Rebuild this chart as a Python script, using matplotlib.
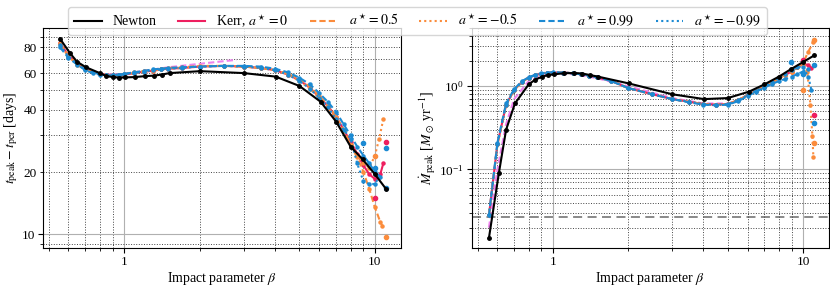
import matplotlib
matplotlib.use("Agg")
import matplotlib.pyplot as plt
from matplotlib import ticker
from matplotlib.lines import Line2D

plt.rcParams['font.family'] = ['Liberation Serif', 'DejaVu Serif']
plt.rcParams['mathtext.fontset'] = 'stix'
plt.rcParams['font.size'] = 10
plt.rcParams['xtick.labelsize'] = 9.5
plt.rcParams['ytick.labelsize'] = 9.5

# ---- data ----
beta_newton = [0.555, 0.608, 0.65, 0.705, 0.80, 0.85, 0.906, 0.955, 1.01, 1.105, 1.21, 1.31,
               1.41, 1.52, 2.01, 3.0, 4.02, 5.0, 6.08, 7.0, 8.0, 8.94, 10.0, 11.1]
t_newton = [88, 75, 68, 64, 60, 58, 57.4, 57, 57.2, 57.4, 58, 58.3,
            59, 60, 61.3, 60, 57.7, 52, 43.6, 35, 26.5, 23, 19.5, 16.5]
m_newton = [0.015, 0.09, 0.3, 0.62, 1.05, 1.2, 1.3, 1.36, 1.39, 1.43, 1.44, 1.42,
            1.36, 1.3, 1.08, 0.8, 0.7, 0.72, 0.86, 1.05, 1.3, 1.6, 1.95, 2.35]

beta_kerr = [0.555, 0.6, 0.65, 0.7, 0.75, 0.8, 0.85, 0.9, 0.95, 1.0, 1.1, 1.2, 1.3, 1.4, 1.5,
             1.7, 2.0, 2.5, 3.0, 3.5, 4.0, 4.5, 5.0, 5.5, 6.0, 6.5, 7.0, 7.5, 8.0, 8.5, 9.0, 9.5]

# left panel: t_peak - t_per [days]
t_a0 = [84, 73, 67, 63, 61, 59.5, 59, 58.5, 58.5, 59, 60, 61, 61.5, 62.5, 63,
        63.5, 64.5, 65, 64.5, 63.5, 62, 59, 55.5, 51, 46, 41.5, 37, 32, 28, 24.5, 21.5, 19.5]
t_p05 = [83, 72, 66, 62.5, 60.5, 59.5, 59, 58.5, 59, 59.5, 60.5, 61.5, 62, 63, 63.5,
         64, 65, 65, 64.5, 63.5, 62, 59.5, 56, 51.5, 46.5, 42, 37, 32, 27, 23.5, 20, 16.5]
t_m05 = [84, 73, 67, 63, 61, 59.5, 59, 58.5, 58.5, 59, 60, 61, 61.5, 62.5, 63,
         63.5, 64.5, 65, 64.5, 63.5, 62, 59, 55, 50.5, 45.5, 41, 36, 31.5, 27, 24, 22, 21]
t_p099 = [80, 71, 66, 62, 60, 59, 58.5, 58.5, 59, 59.5, 60.5, 61.5, 62.5, 63, 63.5,
          64, 64.5, 65, 65, 64.5, 63, 60.5, 57, 53, 48, 43.5, 39, 34, 30, 26.5, 24, 22]
t_m099 = [82, 72, 66.5, 62.5, 60.5, 59.5, 59, 58.5, 59, 59.5, 60, 61, 62, 62.5, 63,
          63.5, 64.5, 65, 64.5, 63.5, 62, 59, 55, 50.5, 45.5, 41, 36, 32, 29, 22, 18, 17.5]

# right panel: Mdot_peak [Msun/yr]
m_a0 = [0.028, 0.2, 0.6, 0.9, 1.12, 1.27, 1.36, 1.42, 1.45, 1.46, 1.46, 1.43, 1.39, 1.34, 1.28,
        1.17, 0.95, 0.8, 0.7, 0.65, 0.61, 0.6, 0.61, 0.68, 0.78, 0.88, 0.99, 1.1, 1.25, 1.37, 1.5, 1.7]
m_p05 = [0.028, 0.2, 0.6, 0.9, 1.12, 1.27, 1.36, 1.42, 1.45, 1.46, 1.46, 1.43, 1.39, 1.34, 1.28,
         1.17, 0.95, 0.8, 0.7, 0.65, 0.61, 0.6, 0.61, 0.68, 0.78, 0.88, 0.99, 1.1, 1.25, 1.37, 1.5, 1.7]
m_m05 = [0.028, 0.2, 0.6, 0.9, 1.12, 1.27, 1.36, 1.42, 1.45, 1.46, 1.46, 1.43, 1.39, 1.34, 1.28,
         1.17, 0.95, 0.8, 0.7, 0.65, 0.61, 0.6, 0.61, 0.68, 0.78, 0.88, 0.99, 1.1, 1.25, 1.37, 1.5, 1.7]
m_p099 = [0.028, 0.21, 0.62, 0.92, 1.14, 1.28, 1.37, 1.43, 1.46, 1.47, 1.46, 1.43, 1.39, 1.34, 1.28,
          1.16, 0.95, 0.8, 0.7, 0.64, 0.6, 0.59, 0.6, 0.66, 0.76, 0.86, 0.96, 1.06, 1.15, 1.22, 1.3, 1.4]
m_m099 = [0.028, 0.2, 0.6, 0.9, 1.12, 1.27, 1.36, 1.42, 1.45, 1.46, 1.46, 1.43, 1.39, 1.34, 1.28,
          1.17, 0.95, 0.8, 0.7, 0.65, 0.61, 0.6, 0.61, 0.68, 0.78, 0.88, 0.99, 1.12, 1.27, 1.4, 1.55, 1.7]

# tails past beta ~ 10 (fits wander here)
tail_beta = {"a0": [10.0, 10.5, 10.8], "p05": [10.0, 10.5, 10.7], "m05": [10.0, 10.4, 10.8],
             "p099": [10.0, 10.5], "m099": [10.0, 10.4]}
tail_t = {"a0": [18.5, 19.5, 22], "p05": [13.5, 11.5, 11], "m05": [24, 29, 36],
          "p099": [20, 19], "m099": [17.5, 19]}
tail_beta_m = {"a0": [10.0, 10.5, 10.8], "p05": [10.0, 10.5, 11.0], "m05": [10.0, 10.4, 10.7, 10.9, 11.0],
               "p099": [10.0, 10.5], "m099": [10.0, 10.5, 10.8]}
tail_m = {"a0": [1.85, 1.8, 1.65], "p05": [1.9, 2.6, 3.4], "m05": [1.8, 1.5, 0.6, 0.25, 0.14],
          "p099": [1.5, 1.6], "m099": [1.7, 1.3, 0.9]}

# loose simulation points near the largest beta
extra_beta = {"a0": [10.0, 11.1], "p05": [10.0, 11.1], "p099": [8.95, 10.0, 11.1, 11.1]}
extra_t = {"a0": [15, 28], "p05": [24, 9.7], "p099": [27.6, 21, 26, 16.8]}
extra_beta_m = {"a0": [10.0, 11.1], "p05": [10.0, 11.1, 11.1], "p099": [8.95, 10.0, 11.1, 11.1]}
extra_m = {"a0": [2.09, 0.45], "p05": [0.91, 3.56, 0.21], "p099": [1.96, 1.42, 1.79, 0.36]}

# violet fit curve (no legend entry)
beta_fit_t = [0.555, 0.6, 0.7, 0.8, 0.9, 1.0, 1.2, 1.5, 2.0, 2.5, 2.8]
fit_t = [82, 73, 63, 59.5, 59, 59.5, 61.5, 64, 66.5, 68.5, 69.5]
beta_fit_m = [0.555, 0.6, 0.65, 0.7, 0.8, 0.9, 1.0, 1.2, 1.5, 2.0, 3.0, 4.0, 5.0]
fit_m = [0.02, 0.1, 0.35, 0.7, 1.15, 1.33, 1.4, 1.4, 1.25, 1.0, 0.72, 0.62, 0.62]

red = '#ee1f5f'
orange = '#fb8c3c'
blue = '#1b8ad3'
violet = '#ee82ee'
dash = (0, (3, 1.5))
dot = (0, (1, 1.5))

series = [
    ("a0", "Kerr, $a^\\star = 0$", red, '-', t_a0, m_a0),
    ("p05", "$a^\\star = 0.5$", orange, dash, t_p05, m_p05),
    ("m05", "$a^\\star = -0.5$", orange, dot, t_m05, m_m05),
    ("p099", "$a^\\star = 0.99$", blue, dash, t_p099, m_p099),
    ("m099", "$a^\\star = -0.99$", blue, dot, t_m099, m_m099),
]

fig = plt.figure(figsize=(8.3, 2.89), dpi=100)
ax1 = fig.add_axes([0.0518, 0.1419, 0.4313, 0.7612])
ax2 = fig.add_axes([0.5687, 0.1419, 0.4301, 0.7612])


def draw(ax, ykey):
    if ykey == "t":
        ax.plot(beta_fit_t, fit_t, color=violet, ls=dash, lw=1.5, zorder=2)
    else:
        ax.plot(beta_fit_m, fit_m, color=violet, ls=dash, lw=1.5, zorder=2)
    ax.plot(beta_newton, t_newton if ykey == "t" else m_newton, color='black', lw=1.5,
            marker='o', ms=2.5, zorder=5)
    for key, lab, col, ls, tv, mv in series:
        if ykey == "t":
            xs = beta_kerr + tail_beta[key]
            ys = tv + tail_t[key]
        else:
            xs = beta_kerr + tail_beta_m[key]
            ys = mv + tail_m[key]
        ax.plot(xs, ys, color=col, ls=ls, lw=1.5, marker='o', ms=2.2, zorder=3)
        if key in extra_beta:
            if ykey == "t":
                ax.plot(extra_beta[key], extra_t[key], 'o', color=col, ms=3, zorder=4)
            else:
                ax.plot(extra_beta_m[key], extra_m[key], 'o', color=col, ms=3, zorder=4)
    ax.set_xscale('log')
    ax.set_yscale('log')
    ax.set_xlim(0.475, 12.7)
    ax.set_xticks([1, 10])
    ax.xaxis.set_major_formatter(ticker.FuncFormatter(lambda v, p: '%g' % v))
    ax.xaxis.set_minor_formatter(ticker.NullFormatter())
    ax.grid(True, which='major', color='#b0b0b0', lw=0.8)
    ax.grid(True, which='minor', color='#444444', ls=':', lw=0.7)
    ax.tick_params(which='both', direction='out', pad=2.5)
    ax.set_xlabel(r'Impact parameter $\beta$', labelpad=1)


draw(ax1, "t")
ax1.set_ylim(8.6, 99)
ax1.yaxis.set_major_locator(ticker.FixedLocator([10]))
ax1.yaxis.set_major_formatter(ticker.FuncFormatter(lambda v, p: '%g' % v))
ax1.yaxis.set_minor_locator(ticker.FixedLocator([9, 20, 30, 40, 50, 60, 70, 80, 90]))
ax1.yaxis.set_minor_formatter(ticker.FuncFormatter(
    lambda v, p: '%g' % v if round(v) in (20, 40, 60, 80) else ''))
ax1.set_ylabel(r'$t_{\rm peak} - t_{\rm per}$ [days]', labelpad=1)

draw(ax2, "m")
ax2.set_ylim(0.0114, 5.0)
ax2.axhline(0.0265, color='gray', ls=(0, (5, 3)), lw=1.3, zorder=1)
ax2.yaxis.set_minor_formatter(ticker.NullFormatter())
ax2.set_ylabel(r'$\dot{M}_{\rm peak}$ [$M_\odot$ yr$^{-1}$]', labelpad=1)

handles = [Line2D([], [], color='black', lw=1.5, label='Newton')]
for key, lab, col, ls, tv, mv in series:
    handles.append(Line2D([], [], color=col, ls=ls, lw=1.5, label=lab))
fig.legend(handles=handles, loc='upper center', bbox_to_anchor=(0.503, 1.0), ncol=6,
           fontsize=10, borderpad=0.4, columnspacing=1.5)

fig.savefig('out.png', dpi=100)
